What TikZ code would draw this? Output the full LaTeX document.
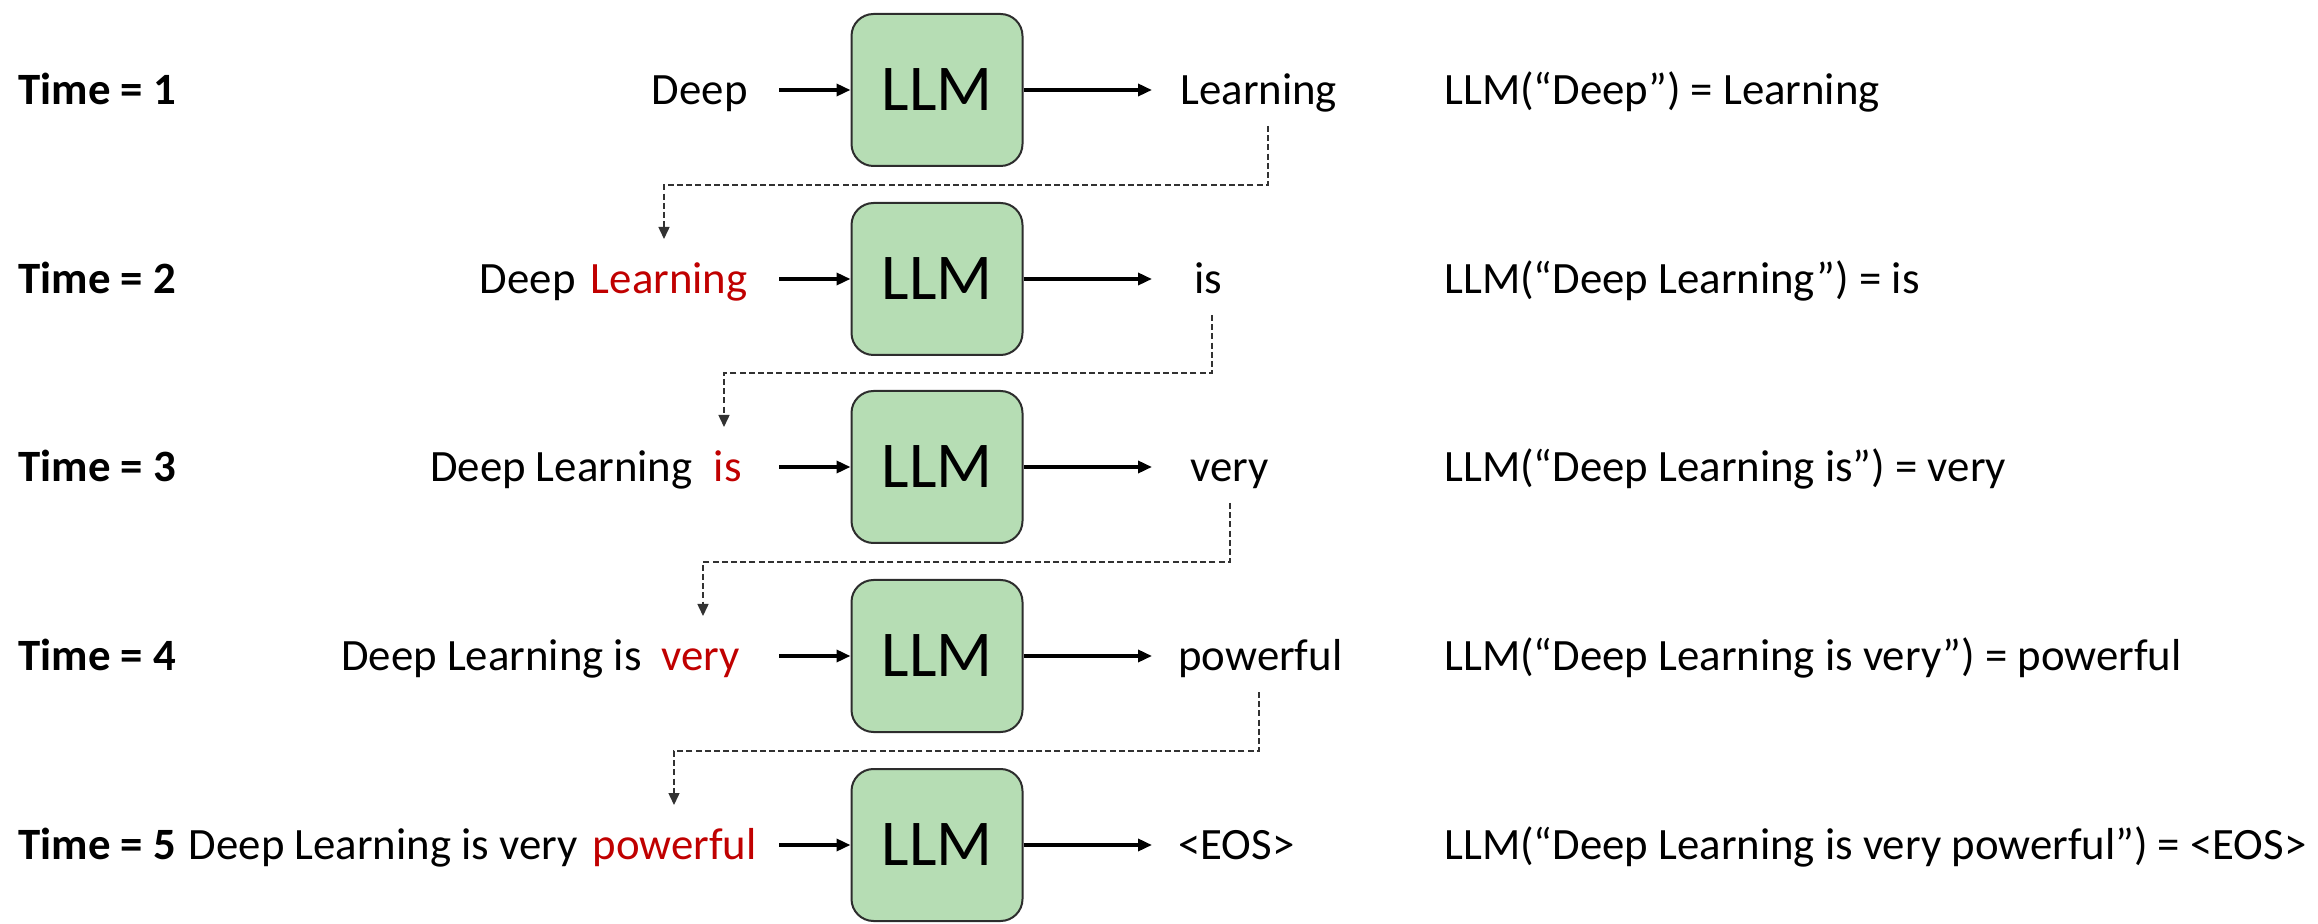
\documentclass[tikz,border=0pt]{standalone}
\usepackage{fontspec}
\setmainfont{Carlito}
\usetikzlibrary{arrows.meta}
\definecolor{boxgreen}{RGB}{182,221,180}
\definecolor{redword}{RGB}{192,0,0}
\definecolor{boxline}{RGB}{45,45,45}
\definecolor{feedline}{RGB}{50,50,50}
\tikzset{
  txt/.style={inner sep=0pt, yshift=-5pt, font=\fontsize{22.4}{26}\selectfont},
  lefttxt/.style={txt, anchor=mid west},
  righttxt/.style={txt, anchor=mid east},
  timelbl/.style={inner sep=0pt, yshift=-5pt, anchor=mid west, font=\fontsize{22.4}{26}\selectfont\bfseries},
  redtxt/.style={righttxt, text=redword},
  llmbox/.style={draw=boxline, line width=1pt, fill=boxgreen, rounded corners=11pt,
    minimum width=85.5pt, minimum height=76pt, inner sep=0pt,
    font=\fontsize{32.7}{36}\selectfont},
  flow/.style={line width=1.7pt, -{Triangle[length=7pt,width=6pt]}},
  feed/.style={draw=feedline, line width=0.75pt, dash pattern=on 3pt off 1.6pt,
    -{Triangle[length=6pt,width=5.5pt]}},
}
\begin{document}
\begin{tikzpicture}[x=0.5pt,y=-0.5pt]
\useasboundingbox (0,0) rectangle (2318,924);

% ---------- Row 1 ----------
\node[timelbl] (t1) at (18,90) {Time = 1};
\node[righttxt] (w1) at (748,90) {Deep};
\node[llmbox] (llm1) at (937,90) {LLM};
\coordinate (in1) at (779,90);
\coordinate (out1) at (1152,90);
\draw[flow] (in1) -- (llm1);
\draw[flow] (llm1) -- (out1);
\node[lefttxt] (o1) at (1180,90) {Learning};
\node[lefttxt] (f1) at (1444,90) {LLM(“Deep”) = Learning};

% ---------- Row 2 ----------
\node[timelbl] (t2) at (18,279) {Time = 2};
\node[redtxt] (r2) at (748,279) {Learning};
\node[righttxt] (b2) at (576,279) {Deep};
\node[llmbox] (llm2) at (937,279) {LLM};
\coordinate (in2) at (779,279);
\coordinate (out2) at (1152,279);
\draw[flow] (in2) -- (llm2);
\draw[flow] (llm2) -- (out2);
\node[lefttxt] (o2) at (1194,279) {is};
\node[lefttxt] (f2) at (1444,279) {LLM(“Deep Learning”) = is};

% ---------- Row 3 ----------
\node[timelbl] (t3) at (18,467) {Time = 3};
\node[redtxt] (r3) at (742,467) {is};
\node[righttxt] (b3) at (693,467) {Deep Learning};
\node[llmbox] (llm3) at (937,467) {LLM};
\coordinate (in3) at (779,467);
\coordinate (out3) at (1152,467);
\draw[flow] (in3) -- (llm3);
\draw[flow] (llm3) -- (out3);
\node[lefttxt] (o3) at (1190,467) {very};
\node[lefttxt] (f3) at (1444,467) {LLM(“Deep Learning is”) = very};

% ---------- Row 4 ----------
\node[timelbl] (t4) at (18,656) {Time = 4};
\node[redtxt] (r4) at (740,656) {very};
\node[righttxt] (b4) at (642,656) {Deep Learning is};
\node[llmbox] (llm4) at (937,656) {LLM};
\coordinate (in4) at (779,656);
\coordinate (out4) at (1152,656);
\draw[flow] (in4) -- (llm4);
\draw[flow] (llm4) -- (out4);
\node[lefttxt] (o4) at (1178,656) {powerful};
\node[lefttxt] (f4) at (1444,656) {LLM(“Deep Learning is very”) = powerful};

% ---------- Row 5 ----------
\node[timelbl] (t5) at (18,845) {Time = 5};
\node[redtxt] (r5) at (757,845) {powerful};
\node[righttxt] (b5) at (578,845) {Deep Learning is very};
\node[llmbox] (llm5) at (937,845) {LLM};
\coordinate (in5) at (779,845);
\coordinate (out5) at (1152,845);
\draw[flow] (in5) -- (llm5);
\draw[flow] (llm5) -- (out5);
\node[lefttxt] (o5) at (1178,845) {<EOS>};
\node[lefttxt] (f5) at (1444,845) {LLM(“Deep Learning is very powerful”) = <EOS>};

% ---------- feedback connectors ----------
\coordinate (s1) at (1268,126);  \coordinate (e1) at (664,239);
\coordinate (s2) at (1212,315);  \coordinate (e2) at (724,427);
\coordinate (s3) at (1230,503);  \coordinate (e3) at (703,616);
\coordinate (s4) at (1259,692);  \coordinate (e4) at (674,805);
\draw[feed] (s1) |- (664,185) -- (e1);
\draw[feed] (s2) |- (724,373) -- (e2);
\draw[feed] (s3) |- (703,562) -- (e3);
\draw[feed] (s4) |- (674,751) -- (e4);
\end{tikzpicture}
\end{document}
